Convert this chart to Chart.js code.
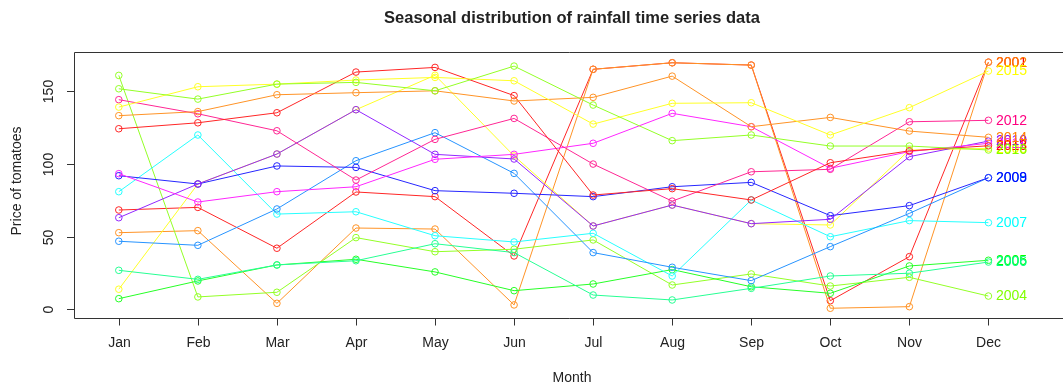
<!DOCTYPE html>
<html>
<head>
<meta charset="utf-8">
<title>Seasonal distribution of rainfall time series data</title>
<script src="https://cdn.jsdelivr.net/npm/chart.js@4/dist/chart.umd.min.js"></script>
<style>
  html, body { margin: 0; padding: 0; background: #ffffff; overflow: hidden; }
  #wrap { width: 1063px; height: 388px; }
</style>
</head>
<body>
<div id="wrap"><canvas id="chart" width="1063" height="388"></canvas></div>
<script>
// Month categories along the x axis
const months = ['Jan', 'Feb', 'Mar', 'Apr', 'May', 'Jun', 'Jul', 'Aug', 'Sep', 'Oct', 'Nov', 'Dec'];
// Tick values on the y axis
const yTicks = [0, 50, 100, 150];
// One series per year
const years = ['2001', '2002', '2003', '2004', '2005', '2006', '2007', '2008',
               '2009', '2010', '2011', '2012', '2013', '2014', '2015', '2016'];

const y2001 = [68.3, 70.1, 42.0, 80.7, 77.5, 36.7, 165.1, 169.6, 168.0, 5.9, 36.2, 170.0];
const y2002 = [52.7, 54.1, 4.1, 55.9, 55.2, 3.0, 165.1, 169.6, 168.0, 0.7, 1.8, 170.0];
const y2003 = [13.8, 86.2, 106.8, 137.3, 161.0, 105.5, 57.3, 71.7, 58.9, 58.0, 109.5, 110.7];
const y2004 = [160.9, 8.5, 11.7, 49.3, 39.6, 41.3, 47.7, 16.7, 24.3, 16.0, 22.0, 9.1];
const y2005 = [7.3, 19.5, 30.5, 34.4, 25.7, 12.8, 17.4, 27.3, 15.5, 11.0, 29.8, 33.7];
const y2006 = [26.8, 20.6, 30.5, 33.4, 45.1, 39.0, 9.8, 6.4, 14.4, 22.9, 24.8, 32.5];
const y2007 = [80.9, 119.9, 65.5, 67.1, 50.6, 46.3, 52.3, 22.9, 75.2, 49.9, 61.0, 59.6];
const y2008 = [46.8, 44.0, 69.0, 102.2, 121.5, 93.5, 39.0, 28.9, 19.7, 43.1, 66.0, 90.5];
const y2009 = [91.9, 86.2, 98.6, 97.6, 81.6, 79.8, 77.5, 84.3, 87.3, 64.4, 71.3, 90.5];
const y2010 = [63.0, 86.2, 106.8, 137.3, 106.6, 103.4, 57.3, 71.7, 58.9, 61.9, 105.0, 115.7];
const y2011 = [93.3, 73.8, 80.9, 84.3, 103.2, 106.6, 114.2, 134.8, 125.6, 97.0, 108.5, 114.2];
const y2012 = [144.2, 134.5, 122.8, 88.9, 116.9, 131.3, 99.9, 74.4, 94.6, 96.3, 129.0, 130.0];
const y2013 = [124.2, 128.3, 135.2, 163.2, 166.4, 147.0, 78.6, 83.0, 75.2, 100.8, 109.0, 112.5];
const y2014 = [133.2, 136.0, 147.6, 149.0, 150.3, 143.3, 145.8, 160.4, 125.6, 132.0, 122.6, 118.3];
const y2015 = [139.1, 153.1, 154.9, 157.7, 159.5, 157.2, 127.4, 141.7, 142.1, 119.9, 138.7, 163.9];
const y2016 = [151.7, 144.6, 154.9, 156.1, 150.3, 167.3, 140.5, 116.0, 119.9, 112.3, 112.3, 109.6];

const seriesValues = [y2001, y2002, y2003, y2004, y2005, y2006, y2007, y2008,
                      y2009, y2010, y2011, y2012, y2013, y2014, y2015, y2016];

// Twelve-step rainbow, reused once it runs out
const palette = ['#FF0000', '#FF8000', '#FFFF00', '#80FF00', '#00FF00', '#00FF80',
                 '#00FFFF', '#0080FF', '#0000FF', '#8000FF', '#FF00FF', '#FF0080'];

const FONT = '"Liberation Sans", Arial, Helvetica, sans-serif';
const INK = '#222222';

// opaque tint of a colour towards white
function tint(hex, t) {
  const n = parseInt(hex.slice(1), 16);
  const mix = c => Math.round(c + (255 - c) * t);
  return 'rgb(' + mix((n >> 16) & 255) + ',' + mix((n >> 8) & 255) + ',' + mix(n & 255) + ')';
}

const datasets = years.map((yr, k) => {
  const c = palette[k % palette.length];
  return {
    label: yr,
    data: seriesValues[k].map((v, i) => ({ x: i + 1, y: v })),
    labelColor: c,
    borderColor: tint(c, 0.15),
    backgroundColor: 'rgba(0,0,0,0)',
    pointBorderColor: tint(c, 0.15),
    pointBackgroundColor: 'rgba(0,0,0,0)',
    borderWidth: 1,
    pointRadius: 3.3,
    pointBorderWidth: 1,
    pointHoverRadius: 3.3,
    tension: 0,
    fill: false,
    // later years are drawn over earlier ones
    order: -k
  };
});

// Frame, axes, tick labels, titles and end-of-line year labels
const decor = {
  id: 'decor',
  afterDatasetsDraw(chart) {
    const ctx = chart.ctx;
    const area = chart.chartArea;
    const xs = chart.scales.x;
    const ys = chart.scales.y;
    ctx.save();

    // year labels at the last month
    ctx.font = '14px ' + FONT;
    ctx.textAlign = 'left';
    ctx.textBaseline = 'middle';
    chart.data.datasets.forEach((ds, k) => {
      const meta = chart.getDatasetMeta(k);
      const last = meta.data[meta.data.length - 1];
      ctx.fillStyle = ds.labelColor;
      ctx.fillText(ds.label, last.x + 7.5, last.y + 0.5);
    });

    // plot frame (right side runs past the canvas edge)
    ctx.strokeStyle = '#333333';
    ctx.lineWidth = 1;
    ctx.beginPath();
    ctx.moveTo(chart.width + 2, Math.round(area.top) + 0.5);
    ctx.lineTo(Math.round(area.left) + 0.5, Math.round(area.top) + 0.5);
    ctx.lineTo(Math.round(area.left) + 0.5, Math.round(area.bottom) + 0.5);
    ctx.lineTo(chart.width + 2, Math.round(area.bottom) + 0.5);
    ctx.stroke();

    // x axis ticks and labels
    ctx.fillStyle = INK;
    ctx.font = '14px ' + FONT;
    ctx.textAlign = 'center';
    ctx.textBaseline = 'middle';
    months.forEach((m, i) => {
      const px = Math.round(xs.getPixelForValue(i + 1)) + 0.5;
      ctx.beginPath();
      ctx.moveTo(px, Math.round(area.bottom) + 0.5);
      ctx.lineTo(px, Math.round(area.bottom) + 7.5);
      ctx.stroke();
      ctx.fillText(m, px, 343);
    });

    // y axis ticks and rotated labels
    yTicks.forEach(v => {
      const py = Math.round(ys.getPixelForValue(v)) + 0.5;
      ctx.beginPath();
      ctx.moveTo(Math.round(area.left) + 0.5, py);
      ctx.lineTo(Math.round(area.left) - 7, py);
      ctx.stroke();
      ctx.save();
      ctx.translate(49, py);
      ctx.rotate(-Math.PI / 2);
      ctx.fillText(String(v), 0, 0);
      ctx.restore();
    });

    // titles
    ctx.font = 'bold 16.5px ' + FONT;
    ctx.fillText('Seasonal distribution of rainfall time series data', 572, 18);
    ctx.font = '14px ' + FONT;
    ctx.fillText('Month', 572, 378);
    ctx.save();
    ctx.translate(17, 181);
    ctx.rotate(-Math.PI / 2);
    ctx.fillText('Price of tomatoes', 0, 0);
    ctx.restore();

    ctx.restore();
  }
};

new Chart(document.getElementById('chart'), {
  type: 'line',
  data: { datasets },
  options: {
    responsive: false,
    animation: false,
    devicePixelRatio: 1,
    layout: { padding: { left: 74, top: 52, right: 0, bottom: 70 } },
    plugins: {
      legend: { display: false },
      title: { display: false },
      tooltip: { enabled: false }
    },
    scales: {
      x: { type: 'linear', display: false, min: 0.4333, max: 12.889 },
      y: { type: 'linear', display: false, min: -6.0, max: 177.0 }
    }
  },
  plugins: [decor]
});
</script>
</body>
</html>
